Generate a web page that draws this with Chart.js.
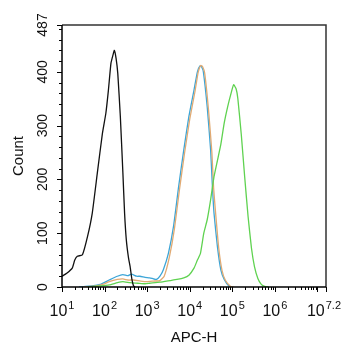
<!DOCTYPE html>
<html>
<head>
<meta charset="utf-8">
<script src="https://cdn.jsdelivr.net/npm/chart.js@4.4.1/dist/chart.umd.min.js"></script>
<style>
  body { margin: 0; background: #fff; }
  canvas { display: block; }
</style>
</head>
<body>
<canvas id="histChart" width="342" height="350"></canvas>
<script>
// x values are log10(APC-H), y values are event counts
const blackX = [1.00, 1.12, 1.24, 1.30, 1.36, 1.48, 1.60, 1.71, 1.83, 1.95, 2.03, 2.09, 2.15, 2.20, 2.23, 2.27, 2.31, 2.37, 2.43, 2.47, 2.51, 2.56, 2.60, 2.64, 2.68, 2.72];
const blackY = [20, 26, 35, 50, 57, 60, 94, 137, 212, 286, 323, 366, 416, 432, 440, 425, 397, 317, 212, 137, 88, 55, 38, 15, 2, 0];

const blueX = [1.40, 1.70, 1.90, 2.11, 2.30, 2.43, 2.55, 2.63, 2.75, 2.83, 2.95, 3.06, 3.15, 3.22, 3.30, 3.38, 3.50, 3.62, 3.74, 3.86, 3.98, 4.10, 4.18, 4.24, 4.28, 4.32, 4.41, 4.49, 4.53, 4.57, 4.65, 4.73, 4.81, 4.93, 5.00];
const blueY = [0, 2, 5, 13, 20, 23, 21, 24, 20, 20, 18, 17, 15, 14, 20, 32, 63, 113, 187, 255, 317, 366, 400, 411, 409, 400, 335, 255, 190, 137, 75, 32, 14, 1, 0];

const orangeX = [1.50, 1.80, 2.00, 2.11, 2.30, 2.43, 2.55, 2.68, 2.85, 2.99, 3.15, 3.30, 3.40, 3.52, 3.64, 3.76, 3.88, 4.00, 4.12, 4.20, 4.26, 4.30, 4.35, 4.44, 4.52, 4.56, 4.61, 4.68, 4.76, 4.84, 4.96, 5.03];
const orangeY = [0, 2, 6, 10, 14, 15, 13, 13, 11, 10, 11, 12, 20, 55, 108, 182, 250, 312, 362, 400, 412, 410, 398, 330, 250, 185, 135, 73, 30, 12, 1, 0];

const greenX = [1.60, 1.90, 2.11, 2.30, 2.43, 2.60, 2.78, 2.95, 3.06, 3.30, 3.54, 3.70, 3.86, 3.98, 4.10, 4.18, 4.25, 4.33, 4.41, 4.49, 4.57, 4.65, 4.73, 4.81, 4.89, 4.97, 5.03, 5.09, 5.13, 5.21, 5.29, 5.37, 5.45, 5.52, 5.60, 5.68, 5.76, 5.85];
const greenY = [0, 2, 4, 8, 10, 8, 7, 6, 7, 9, 12, 14, 17, 22, 35, 50, 62, 100, 125, 162, 205, 235, 265, 305, 335, 360, 376, 368, 350, 284, 205, 131, 72, 38, 16, 5, 1, 0];

const yTicks = [0, 100, 200, 300, 400, 487];
const xTicks = [1, 2, 3, 4, 5, 6, 7.2];

function pts(xs, ys) {
  return xs.map((x, i) => ({ x: x, y: ys[i] }));
}

const axesPlugin = {
  id: 'axesPlugin',
  afterDraw(chart) {
    const ctx = chart.ctx;
    const a = chart.chartArea;
    const x = chart.scales.x;
    const y = chart.scales.y;
    ctx.save();

    // box
    ctx.strokeStyle = '#333';
    ctx.lineWidth = 1.5;
    ctx.beginPath();
    ctx.moveTo(a.left, a.top);
    ctx.lineTo(a.right, a.top);
    ctx.lineTo(a.right, a.bottom);
    ctx.stroke();
    ctx.strokeStyle = '#000';
    ctx.beginPath();
    ctx.moveTo(a.left, a.top);
    ctx.lineTo(a.left, a.bottom);
    ctx.lineTo(a.right, a.bottom);
    ctx.stroke();

    // y tick marks
    ctx.lineWidth = 1;
    ctx.beginPath();
    for (let v = 0; v <= 480; v += 20) {
      const py = Math.round(y.getPixelForValue(v)) + 0.5;
      const len = v % 100 === 0 ? 5 : 3;
      ctx.moveTo(a.left - len, py);
      ctx.lineTo(a.left, py);
    }
    const pTop = Math.round(y.getPixelForValue(487)) + 0.5;
    ctx.moveTo(a.left - 5, pTop);
    ctx.lineTo(a.left, pTop);

    // x tick marks (log decades with minor ticks)
    for (let d = 1; d <= 7; d++) {
      for (let m = 1; m <= 9; m++) {
        const v = d + Math.log10(m);
        if (v > 7.2) break;
        const px = Math.round(x.getPixelForValue(v)) + 0.5;
        const len = m === 1 ? 5 : 3;
        ctx.moveTo(px, a.bottom);
        ctx.lineTo(px, a.bottom + len);
      }
    }
    const pEnd = Math.round(x.getPixelForValue(7.2)) + 0.5;
    ctx.moveTo(pEnd, a.bottom);
    ctx.lineTo(pEnd, a.bottom + 5);
    ctx.stroke();

    ctx.fillStyle = '#111';

    // y tick labels, rotated
    ctx.font = '14px "Liberation Sans", Arial, sans-serif';
    ctx.textAlign = 'center';
    ctx.textBaseline = 'middle';
    yTicks.forEach(v => {
      ctx.save();
      ctx.translate(43, y.getPixelForValue(v));
      ctx.rotate(-Math.PI / 2);
      ctx.fillText(String(v), 0, 0);
      ctx.restore();
    });

    // x tick labels: 10 with superscript exponent
    ctx.textBaseline = 'alphabetic';
    ctx.textAlign = 'left';
    xTicks.forEach(v => {
      const base = '10';
      const exp = String(v);
      ctx.font = '16px "Liberation Sans", Arial, sans-serif';
      const wb = ctx.measureText(base).width;
      ctx.font = '11px "Liberation Sans", Arial, sans-serif';
      const we = ctx.measureText(exp).width;
      let left = x.getPixelForValue(v) - (wb + we + 1) / 2;
      if (left + wb + we + 1 > 341) left = 341 - (wb + we + 1);
      ctx.font = '16px "Liberation Sans", Arial, sans-serif';
      ctx.fillText(base, left, 316);
      ctx.font = '11px "Liberation Sans", Arial, sans-serif';
      ctx.fillText(exp, left + wb + 1, 309);
    });

    // axis titles
    ctx.textAlign = 'center';
    ctx.textBaseline = 'middle';
    ctx.font = '15px "Liberation Sans", Arial, sans-serif';
    ctx.fillText('APC-H', (a.left + a.right) / 2, 338);
    ctx.save();
    ctx.translate(19, (a.top + a.bottom) / 2);
    ctx.rotate(-Math.PI / 2);
    ctx.fillText('Count', 0, 0);
    ctx.restore();

    ctx.restore();
  }
};

new Chart(document.getElementById('histChart'), {
  type: 'line',
  data: {
    datasets: [
      { label: 'Control', data: pts(blackX, blackY), borderColor: '#111111' },
      { label: 'Green', data: pts(greenX, greenY), borderColor: 'rgb(95,210,80)' },
      { label: 'Orange', data: pts(orangeX, orangeY), borderColor: 'rgb(225,170,115)' },
      { label: 'Blue', data: pts(blueX, blueY), borderColor: 'rgb(60,165,215)' }
    ]
  },
  options: {
    responsive: false,
    animation: false,
    devicePixelRatio: 1,
    layout: { padding: { left: 62, right: 16, top: 25, bottom: 63 } },
    elements: {
      line: { borderWidth: 1.3, tension: 0.15, fill: false },
      point: { radius: 0 }
    },
    plugins: { legend: { display: false }, tooltip: { enabled: false } },
    scales: {
      x: { type: 'linear', min: 1, max: 7.2, display: false },
      y: { type: 'linear', min: 0, max: 487, display: false }
    }
  },
  plugins: [axesPlugin]
});
</script>
</body>
</html>
